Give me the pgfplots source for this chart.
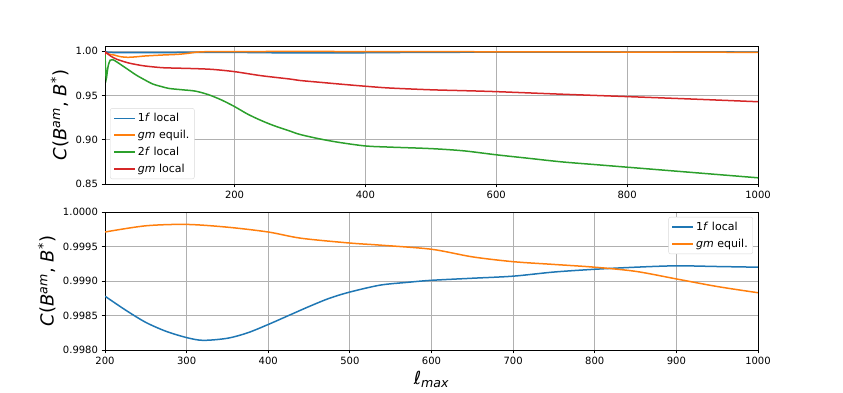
\documentclass[border=0pt]{standalone}
\usepackage{pgfplots}
\pgfplotsset{compat=1.18}
\usepackage{fontspec}
\setmainfont{DejaVu Sans}
\definecolor{c0}{HTML}{1F77B4}
\definecolor{c1}{HTML}{FF7F0E}
\definecolor{c2}{HTML}{2CA02C}
\definecolor{c3}{HTML}{D62728}
\definecolor{gridc}{HTML}{B0B0B0}
\pgfplotsset{
  mpl/.style={
    scale only axis, width=653pt, height=138pt,
    axis line style={line width=0.8pt},
    tick style={line width=0.8pt, black},
    major tick length=3.5pt,
    tick align=outside,
    xtick pos=bottom, ytick pos=left,
    grid=major,
    major grid style={color=gridc, line width=0.8pt},
    tick label style={font=\fontsize{10}{12}\selectfont},
    label style={font=\fontsize{18}{20}\selectfont},
    /pgf/number format/assume math mode=true,
    /pgf/number format/1000 sep={},
    legend style={font=\fontsize{11}{13}\selectfont, draw=black!15, rounded corners=2pt, fill=white, inner xsep=3pt, inner ysep=3pt, row sep=3pt},
    legend cell align=left,
    legend image code/.code={\draw[#1, line width=1.6pt] (0pt,0pt) -- (21pt,0pt);},
    every axis plot/.append style={line width=1.5pt},
  }
}
\begin{document}
\begin{tikzpicture}
\path[use as bounding box] (0,0) rectangle (843pt,393pt);
\begin{axis}[mpl, at={(105pt,209pt)}, anchor=south west,
  xmin=2, xmax=1000, ymin=0.85, ymax=1.006,
  xtick={200,400,600,800,1000},
  ytick={0.85,0.90,0.95,1.00},
  yticklabel style={/pgf/number format/.cd, fixed, fixed zerofill, precision=2},
  ylabel={\textit{C}(\textit{B}\textsuperscript{\textit{am}}, \textit{B}\textsuperscript{*})},
  legend style={at={(0.0077,0.036)}, anchor=south west},
]
\addplot[c0, smooth] coordinates {(2,1.000) (5,0.9990) (10,0.9987) (20,0.9986) (50,0.9985) (100,0.9986) (150,0.9988) (200,0.99878) (250,0.99840) (300,0.99818) (350,0.99817) (400,0.99837) (450,0.99863) (500,0.99884) (600,0.99901) (700,0.99907) (800,0.99917) (900,0.99922) (1000,0.99920)};
\addlegendentry{1\textit{f} local}
\addplot[c1, smooth] coordinates {(2,0.9990) (5,0.9975) (10,0.9965) (16,0.9958) (25,0.9940) (37,0.9932) (50,0.9938) (63,0.9947) (90,0.9958) (114,0.9966) (130,0.9978) (140,0.9989) (154,0.9995) (170,0.99965) (200,0.99971) (300,0.99982) (400,0.99971) (500,0.99955) (600,0.99946) (700,0.99928) (800,0.99920) (900,0.99903) (1000,0.99883)};
\addlegendentry{\textit{gm} equil.}
\addplot[c2, smooth] coordinates {(2,0.997) (3,0.978) (4,0.969) (5,0.974) (7,0.984) (10,0.990) (14,0.9905) (20,0.988) (30,0.983) (38,0.979) (50,0.973) (63,0.9676) (75,0.963) (89,0.960) (100,0.958) (120,0.9565) (140,0.955) (160,0.951) (180,0.945) (200,0.9375) (220,0.929) (240,0.922) (260,0.916) (284,0.910) (300,0.906) (330,0.901) (360,0.897) (400,0.893) (437,0.8917) (500,0.890) (550,0.8875) (600,0.883) (650,0.879) (700,0.875) (750,0.872) (800,0.869) (850,0.866) (900,0.863) (950,0.860) (1000,0.857)};
\addlegendentry{2\textit{f} local}
\addplot[c3, smooth] coordinates {(2,0.996) (3,0.999) (5,0.998) (8,0.996) (12,0.994) (20,0.991) (37,0.987) (50,0.985) (63,0.9834) (89,0.9815) (110,0.981) (140,0.9804) (167,0.9795) (200,0.977) (240,0.9725) (284,0.9687) (300,0.967) (330,0.965) (360,0.963) (400,0.9605) (437,0.9585) (500,0.9565) (550,0.9555) (600,0.9544) (700,0.9515) (800,0.9488) (900,0.946) (1000,0.943)};
\addlegendentry{\textit{gm} local}
\end{axis}
\begin{axis}[mpl, at={(105pt,43pt)}, anchor=south west,
  xmin=200, xmax=1000, ymin=0.998, ymax=1.0,
  xtick={200,300,...,1000},
  ytick={0.998,0.9985,0.999,0.9995,1.0},
  yticklabel style={/pgf/number format/.cd, fixed, fixed zerofill, precision=4},
  ylabel={\textit{C}(\textit{B}\textsuperscript{\textit{am}}, \textit{B}\textsuperscript{*})},
  xlabel={\textit{ℓ}\textsubscript{\textit{max}}},
  legend style={at={(0.9923,0.964)}, anchor=north east},
]
\addplot[c0, smooth] coordinates {(200,0.99878) (225,0.99858) (250,0.99840) (275,0.99827) (300,0.99818) (320,0.99814) (350,0.99817) (375,0.99825) (400,0.99837) (425,0.99850) (450,0.99863) (475,0.99875) (500,0.99884) (537,0.99894) (570,0.99898) (600,0.99901) (650,0.99904) (700,0.99907) (750,0.99913) (800,0.99917) (850,0.99920) (900,0.99922) (950,0.99921) (1000,0.99920)};
\addlegendentry{1\textit{f} local}
\addplot[c1, smooth] coordinates {(200,0.99971) (250,0.99980) (300,0.99982) (350,0.99978) (400,0.99971) (440,0.99962) (500,0.99955) (537,0.99952) (600,0.99946) (650,0.99935) (700,0.99928) (750,0.99924) (800,0.99920) (850,0.99914) (900,0.99903) (950,0.99892) (1000,0.99883)};
\addlegendentry{\textit{gm} equil.}
\end{axis}
\end{tikzpicture}
\end{document}
